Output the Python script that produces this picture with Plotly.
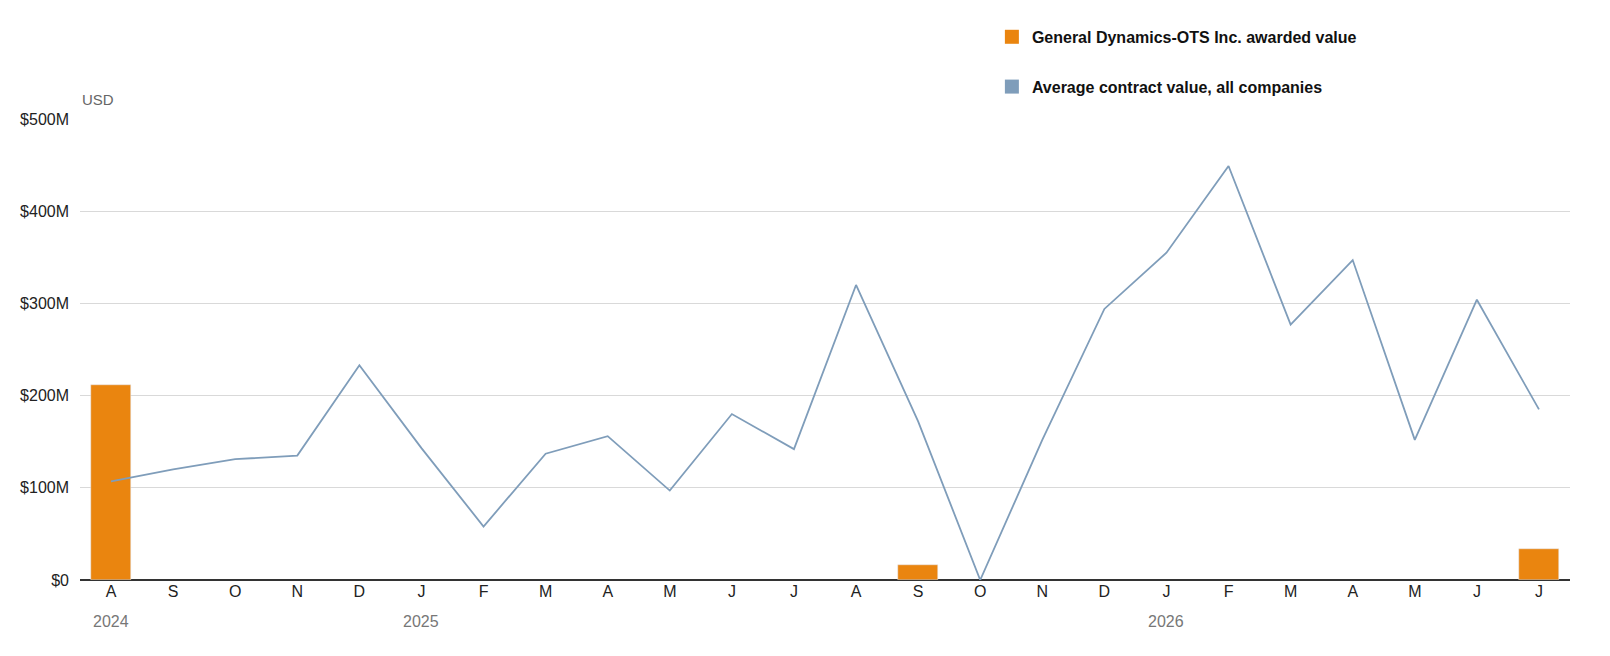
import plotly.graph_objects as go

months = ["A", "S", "O", "N", "D", "J", "F", "M", "A", "M", "J", "J",
          "A", "S", "O", "N", "D", "J", "F", "M", "A", "M", "J", "J"]
avg_value = [107, 120, 131, 135, 233, 143, 58, 137, 156, 97, 180, 142,
             320, 172, 0, 152, 294, 355, 449, 277, 347, 152, 304, 185]
gd_value = [212, None, None, None, None, None, None, None, None, None, None, None,
            None, 16, None, None, None, None, None, None, None, None, None, 34]
years = [(0, "2024"), (5, "2025"), (17, "2026")]

idx = list(range(len(months)))
orange = "#ea850f"
blue = "#7f9dba"

fig = go.Figure()
fig.add_trace(go.Bar(x=idx, y=[v * 1e6 if v is not None else None for v in gd_value],
                     marker_color=orange, width=0.65, showlegend=False))
fig.add_trace(go.Scatter(x=idx, y=[v * 1e6 for v in avg_value], mode="lines",
                         line=dict(color=blue, width=1.8), showlegend=False))
# legend entries with square swatches
fig.add_trace(go.Scatter(x=[None], y=[None], mode="markers", legendgroup="a",
                         name="General Dynamics-OTS Inc. awarded value",
                         marker=dict(symbol="square", size=14, color=orange)))
fig.add_trace(go.Scatter(x=[None], y=[None], mode="markers", legendgroup="b",
                         name="Average contract value, all companies",
                         marker=dict(symbol="square", size=14, color=blue)))

for i, y in years:
    fig.add_annotation(x=i, y=0, xref="x", yref="paper", yshift=-52, text=y, showarrow=False,
                       xanchor="center", font=dict(size=16, color="#777"))
fig.add_annotation(x=0, y=1, xref="paper", yref="paper", yshift=30, text="USD",
                   showarrow=False, xanchor="left", font=dict(size=15, color="#666"))

fig.update_layout(
    width=1610, height=656, plot_bgcolor="white", paper_bgcolor="white",
    margin=dict(l=72, r=48, t=98, b=84),
    font=dict(family="Liberation Sans", size=16, color="#222"),
    bargap=0,
    xaxis=dict(tickmode="array", tickvals=idx, ticktext=months, range=[-0.5, 23.5],
               showgrid=False, ticks="", tickfont=dict(size=16)),
    yaxis=dict(range=[0, 500e6], tickvals=[0, 100e6, 200e6, 300e6, 400e6, 500e6],
               ticktext=["$0", "$100M", "$200M", "$300M", "$400M", "$500M"],
               gridcolor="#d9d9d9", zeroline=True, zerolinecolor="#333", zerolinewidth=2,
               tickfont=dict(size=16), ticklabelstandoff=10),
    legend=dict(x=0.612, y=1.215, xanchor="left", yanchor="top", tracegroupgap=26,
                font=dict(family="Liberation Sans", size=16, color="#111", weight="bold"),
                itemwidth=30),
)
fig.write_html("out.html")
